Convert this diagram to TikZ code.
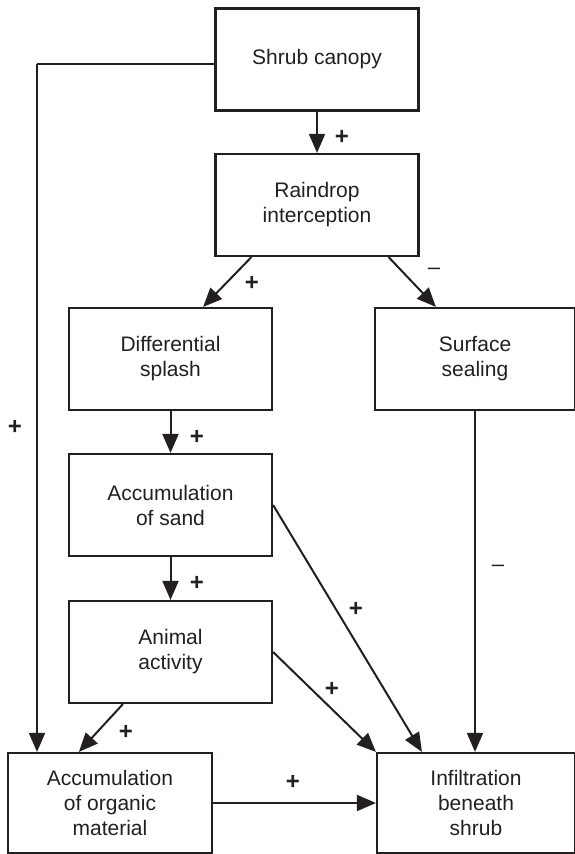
\documentclass[tikz,border=0pt]{standalone}
\usepackage{fontspec}
\setmainfont{Liberation Sans}
\usetikzlibrary{arrows.meta}
\definecolor{ink}{HTML}{231F20}
\begin{document}
\begin{tikzpicture}[x=1pt,y=-1pt,
  box/.style={draw=ink,line width=2.2pt,rectangle,inner sep=0pt,align=center,
    minimum width=203pt,minimum height=102pt,text=ink,
    font=\fontsize{21}{25}\selectfont},
  arr/.style={draw=ink,line width=2pt,-{Triangle[length=19pt,width=16pt]}},
  ln/.style={draw=ink,line width=2pt},
  pl/.style={text=ink,font=\fontsize{24}{28}\selectfont\bfseries,inner sep=0pt},
  mi/.style={text=ink,font=\fontsize{22}{26}\selectfont,inner sep=0pt}]
\useasboundingbox (0,0) rectangle (574,854);
\node[box] (shrub) at (317,59.5) {Shrub canopy};
\node[box] (rain) at (317,205) {Raindrop\\interception};
\node[box] (diff) at (170.5,359) {Differential\\splash};
\node[box,minimum width=200pt] (surf) at (475,359) {Surface\\sealing};
\node[box] (sand) at (170.5,505) {Accumulation\\of sand};
\node[box] (anim) at (170.5,652) {Animal\\activity};
\node[box,minimum width=204pt,minimum height=100pt] (org) at (110,803) {Accumulation\\of organic\\material};
\node[box,minimum width=198pt,minimum height=100pt] (inf) at (476,803) {Infiltration\\beneath\\shrub};
\coordinate (L) at (37,64);
% connectors
\draw[arr] (shrub.south) -- (rain.north);
\draw[ln] ([yshift=-4.5pt]shrub.west) -- (L);
\draw[arr] (L) -- (L |- org.north);
\draw[arr] ([xshift=37pt]rain.south west) -- ([xshift=-70pt]diff.north east);
\draw[arr] ([xshift=-31pt]rain.south east) -- ([xshift=62pt]surf.north west);
\draw[arr] (diff.south) -- (sand.north);
\draw[arr] (sand.south) -- (anim.north);
\draw[arr] (sand.east) -- ([xshift=46pt]inf.north west);
\draw[arr] (anim.east) -- (inf.north west);
\draw[arr] ([xshift=55pt]anim.south west) -- ([xshift=72pt]org.north west);
\draw[arr] (surf.south) -- (surf.south |- inf.north);
\draw[arr] (org.east) -- (org.east -| inf.west);
% signs
\node[pl] (p1) at (342,137) {+};
\node[pl] (p2) at (252,283) {+};
\node[mi] (m1) at (434,271) {–};
\node[pl] (p3) at (197,437) {+};
\node[pl] (p4) at (197,583) {+};
\node[pl] (p5) at (15,427) {+};
\node[pl] (p6) at (356,609) {+};
\node[pl] (p7) at (332,689) {+};
\node[mi] (m2) at (498,568) {–};
\node[pl] (p8) at (126,732) {+};
\node[pl] (p9) at (293,782) {+};
\end{tikzpicture}
\end{document}
